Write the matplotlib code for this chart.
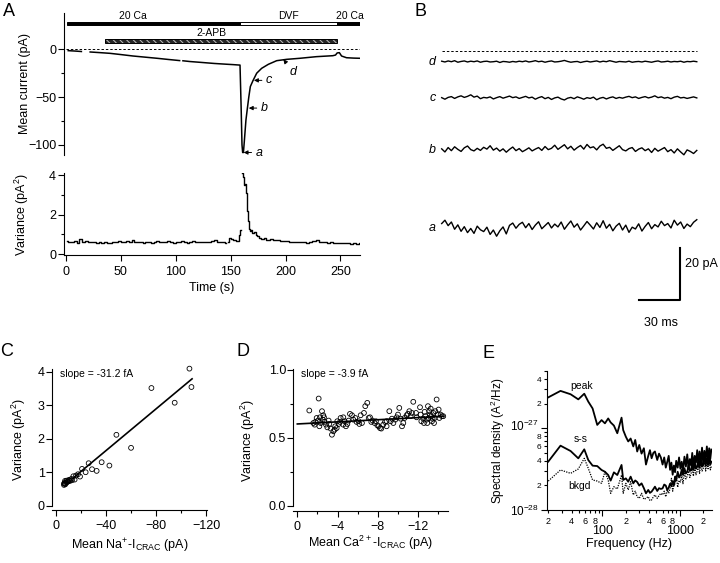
import numpy as np
import matplotlib
matplotlib.use("Agg")
import matplotlib.pyplot as plt
import matplotlib.transforms as mtransforms
from matplotlib.ticker import FixedLocator, FixedFormatter

plt.rcParams['font.family'] = ['Liberation Sans', 'DejaVu Sans']
plt.rcParams['mathtext.fontset'] = 'custom'
plt.rcParams['mathtext.rm'] = 'Liberation Sans'
plt.rcParams['mathtext.it'] = 'Liberation Sans:italic'
plt.rcParams['hatch.linewidth'] = 0.7
plt.rcParams['axes.linewidth'] = 0.8

nan = np.nan

# ---- A: mean current vs time
cur_t = [2, 8, 14, 15, 22, 30, 40, 50, 61, 72,
         83, 93, 103.5, 105, 106.5, 113, 122, 135, 146, 152,
         157, 158.5, 159.5, 160.3, 160.9, 161.6, 162.4, 163.9, 165.2, 166.5,
         167.9, 170.3, 173.7, 178.2, 184.3, 191.9, 201, 213, 228, 243,
         245.5, 247, 249, 251, 255.5, 262, 268]
cur_i = [-1.4, -1.8, -2.3, nan, -2.8, -3.4, -4.2, -5.5, -7.0, -8.2,
         -9.4, -10.6, -11.8, nan, -12.0, -12.8, -13.6, -14.8, -15.6, -16.0,
         -16.4, -16.5, -60, -100, -108, -108, -96.6, -74, -61.8, -50,
         -39, -32.8, -25, -19.9, -15.7, -11.9, -10.5, -9.4, -7.7, -6.7,
         -6.0, -3.8, -3.5, -7, -8.8, -9.2, -9.4]

# solution bars
sol_names = ['20 Ca', 'DVF', '20 Ca']
sol_start = [0.6, 158.5, 246.5]
sol_end = [158.5, 246.5, 268]
sol_colors = ['k', 'w', 'k']
sol_text_t = [60.6, 202.5, 258.6]
apb_start, apb_end = 35.5, 247

# points a-c (time of arrow tip, current)
mark_labels = ['a', 'b', 'c']
mark_t = [161.8, 166.5, 171.2]
mark_i = [-108, -61.5, -32.5]

# ---- A: variance vs time
var_base = [0.66, 0.62, 0.60, 0.64, 0.58, 0.75, 0.62, 0.65, 0.63, 0.60,
            0.62, 0.58, 0.61, 0.56, 0.60, 0.55, 0.58, 0.61, 0.59, 0.64,
            0.60, 0.62, 0.66, 0.61, 0.72, 0.62, 0.59, 0.63, 0.57, 0.60,
            0.62, 0.58, 0.61, 0.64, 0.59, 0.62, 0.60, 0.66, 0.63, 0.58,
            0.62, 0.60, 0.64, 0.61, 0.58, 0.63, 0.65, 0.60, 0.62, 0.59,
            0.63, 0.61, 0.60, 0.64, 0.69, 0.62, 0.60, 0.63, 0.58]
var_t2 = [148, 149.5, 151, 152.5, 154, 155.5, 157, 158, 158.8, 159.5,
          160.8, 161.8, 162.8, 163.6, 164.4, 165.2, 166, 167, 168, 169,
          170.5, 172, 173.5, 175, 177, 179, 181, 184, 187, 190,
          193, 196, 199, 202, 205, 208, 211, 214, 217, 220,
          223, 226, 229, 231, 233, 236, 239, 242, 245, 248,
          251, 254, 257, 260, 263, 266, 268]
var_v2 = [0.62, 0.80, 0.74, 0.70, 0.72, 0.66, 0.68, 0.95, 1.22, nan,
          4.1, 3.9, 3.5, 3.55, 3.1, 2.2, 1.7, 1.25, 1.15, 1.22,
          1.08, 1.12, 0.95, 0.90, 0.82, 0.78, 0.80, 0.72, 0.74, 0.70,
          0.72, 0.66, 0.68, 0.64, 0.62, 0.60, 0.63, 0.60, 0.61, 0.58,
          0.62, 0.66, 0.70, 0.62, 0.60, 0.63, 0.58, 0.60, 0.57, 0.56,
          0.54, 0.57, 0.55, 0.53, 0.56, 0.53, 0.54]

# ---- B: current traces (pA), mean levels and fluctuations
trace_labels = ['a', 'b', 'c', 'd']
trace_mean = [-68.5, -38.4, -18.4, -4.3]
a_noise = [1.6, 2.9, 0.8, 2.2, -0.6, 1.1, -1.4, 0.4, -1.9, -0.3,
           -2.2, 0.6, -0.8, -1.5, 0.2, -2.6, -0.9, -3.3, -1.2, 0.3,
           -2.4, 0.9, 1.8, -0.2, 1.3, 2.1, 0.0, 1.6, -0.7, 1.0,
           2.3, -0.4, 0.8, 2.0, -0.1, 1.4, 0.3, 2.2, -0.6, 1.1,
           2.6, 0.2, 1.5, -0.9, 0.7, 2.4, 1.0, -0.5, 1.9, 0.1,
           2.7, -0.2, 1.3, -1.2, 0.6, 1.7, -0.9, 1.0, -1.8, 0.2,
           -0.5, 1.5, -1.3, 0.5, 2.0, -0.4, 1.2, 0.3, 2.5, 0.8,
           1.6, -0.1, 2.9, 1.0, 2.2, -0.3, 1.4, 0.4, 2.1, 3.1]
b_noise = [0.4, -0.8, 0.9, -0.3, 1.2, 0.2, -0.6, 0.8, 1.5, 0.1,
           -0.4, 0.6, -0.2, 1.0, 0.3, 1.6, -0.1, 0.7, -0.5, 0.4,
           -0.9, 0.2, 1.1, -0.3, 0.5, -0.7, 0.0, 0.8, -0.4, 0.3,
           0.9, -0.2, 1.3, 0.1, 0.6, 1.8, 0.2, 1.1, 2.0, 0.4,
           1.4, -0.1, 0.9, 1.7, 0.3, 2.1, 0.8, 1.2, 0.0, 1.5,
           2.2, 0.6, 1.0, -0.2, 0.7, 1.6, 0.1, -0.4, 0.5, 0.9,
           -0.6, 0.3, 0.8, -0.3, 0.4, -1.0, 0.6, -0.5, 0.2, 0.9,
           -0.7, 0.1, -1.2, 0.4, -0.8, -1.9, 0.0, -0.6, -1.4, -0.2]
c_noise = [0.2, -0.4, 0.3, 0.6, -0.1, 0.5, 0.9, 0.3, 0.7, 1.3,
           0.4, 0.8, -0.2, 0.3, 0.1, 0.5, -0.3, 0.2, 0.6, 0.0,
           0.4, 0.8, 0.2, 0.5, -0.1, 0.3, 0.7, 0.1, 0.4, -0.4,
           0.2, 0.6, -0.2, 0.3, -0.5, 0.1, 0.4, -0.3, -0.7, 0.0,
           0.3, -0.2, 0.5, 0.1, -0.4, 0.2, -0.1, 0.4, -0.6, 0.0,
           0.3, -0.3, 0.2, 0.5, -0.1, 0.3, 0.0, 0.4, 0.7, 0.2,
           0.5, -0.1, 0.3, 0.6, 0.1, 0.4, 0.9, 0.2, 0.5, 0.0,
           0.3, -0.2, 0.4, 0.7, 0.1, 0.3, -0.1, 0.2, 0.5, 0.1]
d_noise = [0.2, -0.1, 0.3, 0.0, 0.4, -0.2, 0.1, 0.3, -0.1, 0.2,
           0.0, 0.3, -0.2, 0.1, 0.2, -0.1, 0.0, 0.2, -0.3, 0.1,
           0.0, -0.2, 0.1, -0.1, 0.2, 0.0, 0.3, -0.1, 0.1, 0.4,
           0.0, 0.2, -0.2, 0.1, 0.3, -0.1, 0.0, 0.2, 0.5, 0.1,
           -0.2, 0.0, 0.1, -0.3, 0.0, 0.2, -0.1, 0.1, 0.3, -0.1,
           0.2, 0.0, 0.4, 0.1, -0.2, 0.1, 0.0, -0.1, 0.2, -0.2,
           0.0, 0.1, -0.1, 0.2, 0.0, -0.2, 0.1, 0.3, -0.1, 0.0,
           0.2, -0.1, 0.1, 0.0, 0.2, -0.2, 0.1, 0.0, 0.2, 0.0]
trace_dur_ms = 188
scale_ms, scale_pA = 30, 20

# ---- C: Na+ current variance vs mean
c_I = [-106.7, -108.3, -94.9, -76.3, -60.0, -48.3, -42.7, -36.5, -32.5, -28.8,
       -26.1, -23.7, -20.8, -19.2, -17.6, -16.0, -14.9, -13.9, -12.8, -12.3,
       -11.2, -10.1, -9.3, -8.5, -8.0, -7.5, -7.2, -6.9, -6.4, -6.4,
       -7.0, -8.8, -9.8, -10.6]
c_V = [4.10, 3.55, 3.08, 3.52, 1.73, 2.12, 1.20, 1.30, 1.04, 1.09,
       1.27, 1.00, 1.10, 0.87, 0.94, 0.90, 0.78, 0.88, 0.76, 0.80,
       0.74, 0.76, 0.72, 0.75, 0.70, 0.64, 0.74, 0.68, 0.62, 0.66,
       0.66, 0.70, 0.73, 0.77]
c_slope, c_icpt = -0.0312, 0.40
c_fit_range = [-14, -108.8]

# ---- D: Ca2+ current variance vs mean
d_I = [-1.19, -2.12, -2.45, -1.92, -1.79, -2.05, -2.25, -2.32, -2.52, -2.65,
       -2.72, -2.85, -2.19, -2.98, -3.18, -3.31, -3.44, -3.58, -3.71, -3.77,
       -3.91, -4.11, -4.24, -4.30, -4.57, -4.70, -4.83, -4.97, -5.10, -5.23,
       -5.43, -5.56, -5.76, -5.89, -6.09, -6.16, -6.42, -6.62, -6.75, -6.95,
       -7.09, -7.22, -7.35, -7.48, -7.81, -7.95, -8.08, -8.21, -8.34, -8.54,
       -8.71, -8.87, -9.14, -9.27, -9.40, -9.54, -9.74, -9.87, -10.0, -10.13,
       -10.26, -10.40, -10.53, -10.66, -10.86, -10.99, -11.13, -11.26, -11.39, -11.52,
       -11.79, -11.85, -12.19, -12.25, -12.52, -12.58, -12.72, -12.85, -12.91, -13.05,
       -13.11, -13.18, -13.31, -13.38, -13.44, -13.51, -13.58, -13.71, -13.84, -13.97,
       -14.04, -14.11, -14.24, -14.37, -14.50, -1.59, -1.72, -2.58, -3.11, -3.97,
       -4.57, -6.29, -7.68, -8.87, -12.32, -12.65, -12.98, -13.25, -13.64]
d_V = [0.700, 0.788, 0.695, 0.645, 0.616, 0.626, 0.650, 0.608, 0.633, 0.650,
       0.616, 0.596, 0.584, 0.576, 0.601, 0.567, 0.522, 0.547, 0.559, 0.584,
       0.571, 0.601, 0.616, 0.645, 0.650, 0.621, 0.584, 0.601, 0.626, 0.675,
       0.665, 0.633, 0.645, 0.616, 0.621, 0.601, 0.608, 0.682, 0.732, 0.756,
       0.645, 0.650, 0.616, 0.626, 0.621, 0.591, 0.584, 0.571, 0.567, 0.596,
       0.616, 0.584, 0.695, 0.621, 0.640, 0.608, 0.633, 0.650, 0.670, 0.719,
       0.640, 0.584, 0.608, 0.645, 0.665, 0.675, 0.695, 0.658, 0.682, 0.764,
       0.682, 0.650, 0.724, 0.670, 0.640, 0.608, 0.658, 0.633, 0.608, 0.645,
       0.695, 0.670, 0.658, 0.621, 0.640, 0.682, 0.608, 0.695, 0.781, 0.670,
       0.707, 0.645, 0.670, 0.658, 0.658, 0.608, 0.596, 0.665, 0.626, 0.621,
       0.596, 0.665, 0.608, 0.621, 0.621, 0.690, 0.732, 0.714, 0.645]
d_slope, d_icpt = -0.0039, 0.601
d_fit_range = [0, -14.5]

# ---- E: spectral density (units of 1e-28 A^2/Hz)
freq_hz = [20, 28.8, 38.9, 48.9, 58.4, 65.8, 74.8, 85.9, 97.7, 108,
           119, 128, 141, 156, 177, 186, 201, 216, 232, 251,
           266, 282, 300, 321, 344, 366, 392, 412, 433, 456,
           478, 512, 540, 570,
           600, 630, 660, 690, 720, 750, 780, 810, 840, 870,
           900, 940, 980, 1020, 1060, 1100, 1150, 1200, 1250, 1300,
           1350, 1400, 1450, 1500, 1560, 1620, 1680, 1740, 1800, 1870,
           1940, 2010, 2080, 2160, 2240, 2320, 2400, 2480, 2560]
peak_sd = [23.9, 28.7, 26.1, 22.6, 26.5, 21.2, 17.5, 11.0, 12.6, 11.5,
           13.2, 11.8, 10.8, 8.7, 13.5, 9.5, 7.9, 6.9, 7.5, 6.0,
           7.2, 5.2, 6.25, 4.9, 5.7, 3.6, 4.6, 5.4, 4.3, 5.0,
           5.2, 4.1, 4.9, 4.4,
           3.6, 4.4, 3.3, 3.9, 4.6, 3.1, 3.8, 2.7, 3.5, 2.9,
           4.0, 3.3, 4.4, 3.2, 3.9, 3.0, 4.5, 3.4, 4.8, 3.2,
           4.2, 3.5, 5.0, 3.4, 4.6, 3.8, 5.4, 3.6, 5.2, 3.9,
           5.8, 3.7, 5.3, 4.2, 6.0, 3.9, 5.7, 4.2, 5.5]
ss_sd = [3.91, 6.13, 5.27, 4.29, 5.53, 4.09, 3.49, 3.45, 3.09, 2.94,
         2.68, 2.29, 2.89, 2.68, 3.56, 2.33, 2.44, 2.22, 2.56, 2.12,
         2.30, 2.20, 1.99, 2.12, 1.85, 1.60, 1.76, 1.62, 1.68, 1.80,
         1.93, 1.71, 1.85, 1.81,
         1.84, 2.05, 1.99, 1.75, 1.88, 2.10, 1.95, 2.26, 2.0, 2.56,
         2.3, 2.94, 2.5, 2.68, 3.1, 2.7, 3.24, 2.8, 2.94, 3.56,
         3.0, 3.09, 3.7, 3.1, 3.91, 3.2, 3.39, 4.1, 3.3, 4.29,
         3.4, 3.56, 4.94, 3.5, 4.3, 3.56, 5.18, 3.6, 3.91]
bkgd_sd = [2.26, 3.09, 2.81, 3.18, 4.29, 3.24, 2.33, 2.26, 2.12, 2.94,
           2.33, 1.60, 1.93, 1.81, 2.68, 1.60, 2.12, 1.76, 2.22, 1.53,
           1.70, 1.45, 1.39, 1.60, 1.35, 1.39, 1.46, 1.30, 1.33, 1.45,
           1.53, 1.39, 1.50, 1.60,
           1.53, 1.70, 1.45, 1.76, 1.60, 1.84, 2.44, 1.70, 2.02, 2.10,
           2.68, 1.9, 2.3, 2.2, 2.7, 2.1, 2.9, 2.4, 2.6, 3.0,
           2.5, 2.8, 3.3, 2.6, 3.4, 2.7, 3.0, 3.5, 2.8, 3.7,
           3.0, 3.2, 4.1, 3.0, 3.7, 3.2, 4.3, 3.1, 3.4]

W, H = 720, 563
fig = plt.figure(figsize=(W / 100, H / 100), dpi=100)


def px_axes(l, t, r, b):
    return fig.add_axes([l / W, 1 - b / H, (r - l) / W, (b - t) / H])


def ftext(x, y, s, **kw):
    fig.text(x / W, 1 - y / H, s, **kw)


def style(ax, fs=9, xpad=3.5):
    for s in ['top', 'right']:
        ax.spines[s].set_visible(False)
    ax.tick_params(direction='out', length=4.5, width=0.8, labelsize=fs)
    ax.tick_params(axis='y', pad=0.8)
    ax.tick_params(axis='x', pad=xpad)
    ax.tick_params(which='minor', direction='out', length=2.5, width=0.8)


# ---------------- panel A top
ax1 = px_axes(63.5, 13, 360, 155)
style(ax1)
ax1.spines['bottom'].set_visible(False)
ax1.set_xticks([])
ax1.set_xlim(-2.3, 267.8)
ax1.set_ylim(-110.6, 38)
ax1.set_yticks([-100, -50, 0])
ax1.yaxis.set_minor_locator(FixedLocator([-75, -25]))
ax1.plot([0, 268], [0, 0], color='k', lw=0.7, ls=(0, (2.5, 2)))
ax1.plot(cur_t, cur_i, color='k', lw=1.1)
for name, s, e, c, tx in zip(sol_names, sol_start, sol_end, sol_colors, sol_text_t):
    ax1.barh(27.15, e - s, left=s, height=3.5, color=c, edgecolor='k', lw=0.7)
    ax1.text(tx, 34.8, name, ha='center', va='center', fontsize=7.5, clip_on=False)
ax1.barh(8.4, apb_end - apb_start, left=apb_start, height=4.2, facecolor='0.15',
         edgecolor='0.75', hatch='\\\\\\\\\\', lw=0)
ax1.barh(8.4, apb_end - apb_start, left=apb_start, height=4.2, facecolor='none',
         edgecolor='k', lw=0.7)
ax1.text(132.7, 16.7, '2-APB', ha='center', va='center', fontsize=7.5)
arrow = dict(arrowstyle='-|>', lw=0.7, color='k', shrinkA=1, shrinkB=0, mutation_scale=6)
for lab, t, i in zip(mark_labels, mark_t, mark_i):
    ax1.annotate(lab, xy=(t, i), xytext=(t + 11, i), ha='left', va='center',
                 fontsize=9, style='italic', arrowprops=arrow)
ax1.annotate('d', xy=(198, -10.5), xytext=(207, -23.4), ha='center', va='center',
             fontsize=9, style='italic', arrowprops=arrow)
ax1.set_ylabel('Mean current (pA)', fontsize=9)
ax1.yaxis.set_label_coords(-0.11, 0.5)

# ---------------- panel A bottom
ax2 = px_axes(63.5, 173, 360, 255)
style(ax2)
ax2.set_xlim(-2.3, 267.8)
ax2.set_ylim(-0.05, 4.12)
base_t = np.linspace(1, 146, len(var_base))
ax2.plot(base_t, var_base, color='k', lw=1.0, drawstyle='steps-mid')
ax2.plot(var_t2, var_v2, color='k', lw=1.0, drawstyle='steps-mid')
ax2.set_yticks([0, 2, 4])
ax2.yaxis.set_minor_locator(FixedLocator([1, 3]))
ax2.set_xticks([0, 50, 100, 150, 200, 250])
ax2.set_xlabel('Time (s)', fontsize=9)
ax2.xaxis.set_label_coords(0.5, -0.326)
ax2.set_ylabel('Variance (pA$^2$)', fontsize=9)
ax2.yaxis.set_label_coords(-0.111, 0.5)

# ---------------- panel B
ax6 = px_axes(425, 40, 720, 335)
ax6.axis('off')
ax6.set_xlim(-12.3, 205.1)
ax6.set_ylim(-110, 4.1)
ax6.plot([0, trace_dur_ms], [0, 0], color='k', lw=0.7, ls=(0, (2.5, 2)))
for lab, m, nz in zip(trace_labels, trace_mean, [a_noise, b_noise, c_noise, d_noise]):
    tt = np.linspace(0, trace_dur_ms, len(nz))
    ax6.plot(tt, m + np.array(nz), color='k', lw=1.0)
    ax6.text(-6.8, m, lab, ha='center', va='center', fontsize=9, style='italic')
sx, sy = 175.6, -96.4
ax6.plot([sx - scale_ms, sx, sx], [sy, sy, sy + scale_pA], color='k', lw=1.5)
ax6.text(sx + 3.7, sy + scale_pA * 0.7, '%d pA' % scale_pA, ha='left', va='center', fontsize=9)
ax6.text(sx - scale_ms / 2 + 1, sy - 9, '%d ms' % scale_ms, ha='center', va='center', fontsize=9)

# ---------------- panel C
ax3 = px_axes(52, 369.3, 206.7, 510)
style(ax3, xpad=2.5)
ax3.set_xlim(3.2, -120.5)
ax3.set_ylim(-0.13, 4.08)
ax3.spines['left'].set_bounds(0, 4.08)
ax3.scatter(c_I, c_V, s=12, facecolors='none', edgecolors='k', linewidths=0.6, clip_on=False)
fx = np.array(c_fit_range)
ax3.plot(fx, c_icpt + c_slope * fx, color='k', lw=1.2)
ax3.set_xticks([0, -40, -80, -120])
ax3.xaxis.set_minor_locator(FixedLocator([-20, -60, -100]))
ax3.set_yticks([0, 1, 2, 3, 4])
ax3.text(-3.5, 3.95, 'slope = -31.2 fA', fontsize=7.5, ha='left', va='center')
ax3.set_xlabel('Mean Na$^{+}$-I$_{\\mathrm{CRAC}}$ (pA)', fontsize=9)
ax3.xaxis.set_label_coords(0.5, -0.19)
ax3.set_ylabel('Variance (pA$^2$)', fontsize=9)
ax3.yaxis.set_label_coords(-0.158, 0.5)

# ---------------- panel D
ax4 = px_axes(293.3, 369.3, 448.3, 511)
style(ax4, xpad=2.5)
ax4.set_xlim(0.4, -15.0)
ax4.set_ylim(-0.039, 1.003)
ax4.spines['left'].set_bounds(0, 1.003)
ax4.scatter(d_I, d_V, s=12, facecolors='none', edgecolors='k', linewidths=0.6, clip_on=False)
fx = np.array(d_fit_range)
ax4.plot(fx, d_icpt + d_slope * fx, color='k', lw=1.2)
ax4.set_xticks([0, -4, -8, -12])
ax4.xaxis.set_minor_locator(FixedLocator([-2, -6, -10, -14]))
ax4.set_yticks([0, 0.5, 1.0])
ax4.set_yticklabels(['0.0', '0.5', '1.0'])
ax4.yaxis.set_minor_locator(FixedLocator([0.25, 0.75]))
ax4.text(-0.35, 0.97, 'slope = -3.9 fA', fontsize=7.5, ha='left', va='center')
ax4.set_xlabel('Mean Ca$^{2+}$-I$_{\\mathrm{CRAC}}$ (pA)', fontsize=9)
ax4.xaxis.set_label_coords(0.5, -0.16)
ax4.set_ylabel('Variance (pA$^2$)', fontsize=9)
ax4.yaxis.set_label_coords(-0.234, 0.5)

# ---------------- panel E
ax5 = px_axes(546.7, 370.7, 712, 510)
style(ax5)
ax5.set_xscale('log')
ax5.set_yscale('log')
f = np.array(freq_hz)
ax5.plot(f, np.array(peak_sd) * 1e-28, color='k', lw=1.3)
ax5.plot(f, np.array(ss_sd) * 1e-28, color='k', lw=1.3)
ax5.plot(f, np.array(bkgd_sd) * 1e-28, color='k', lw=0.9, ls=(0, (1, 1)))
ax5.set_xlim(19.1, 2610)
ax5.set_ylim(1e-28, 5.07e-27)
ax5.xaxis.set_major_locator(FixedLocator([100, 1000]))
ax5.xaxis.set_major_formatter(FixedFormatter(['100', '1000']))
xmin = [20, 30, 40, 50, 60, 70, 80, 90, 200, 300, 400, 500, 600, 700, 800, 900, 2000]
xmin_lab = ['2', '', '4', '', '6', '', '8', '', '2', '', '4', '', '6', '', '8', '', '2']
ax5.xaxis.set_minor_locator(FixedLocator(xmin))
ax5.xaxis.set_minor_formatter(FixedFormatter(xmin_lab))
ax5.yaxis.set_major_locator(FixedLocator([1e-28, 1e-27]))
ax5.yaxis.set_major_formatter(FixedFormatter(['$10^{-28}$', '$10^{-27}$']))
ymin = [2e-28, 3e-28, 4e-28, 5e-28, 6e-28, 7e-28, 8e-28, 9e-28, 2e-27, 3e-27, 4e-27, 5e-27]
ymin_lab = ['2', '', '4', '', '6', '', '8', '', '2', '', '4', '']
ax5.yaxis.set_minor_locator(FixedLocator(ymin))
ax5.yaxis.set_minor_formatter(FixedFormatter(ymin_lab))
ax5.tick_params(axis='x', which='major', pad=6.5, labelsize=9)
ax5.tick_params(axis='x', which='minor', pad=2.2, labelsize=6.5)
ax5.tick_params(axis='y', which='major', labelsize=8.5, pad=1.5)
ax5.tick_params(axis='y', which='minor', labelsize=6, pad=1.5)
ax5.text(54, 32.9e-28, 'peak', ha='center', va='center', fontsize=7.5)
ax5.text(52.8, 7.4e-28, 's-s', ha='center', va='center', fontsize=7.5)
ax5.text(50.4, 1.97e-28, 'bkgd', ha='center', va='center', fontsize=7.5)
ax5.set_xlabel('Frequency (Hz)', fontsize=9)
ax5.xaxis.set_label_coords(0.5, -0.2)
ax5.set_ylabel('Spectral density (A$^2$/Hz)', fontsize=8.5)
ax5.yaxis.set_label_coords(-0.242, 0.5)
# nudge the 10^-27 label up a little so it clears the minor '8'
lift = mtransforms.ScaledTranslation(0, 2.5 / 72, fig.dpi_scale_trans)
fig.canvas.draw()
for lab in ax5.get_yticklabels():
    if '27' in lab.get_text():
        lab.set_transform(lab.get_transform() + lift)

# panel letters
for lab, x, y in [('A', 9, 11), ('B', 421, 11), ('C', 7, 352), ('D', 243, 352), ('E', 488, 353)]:
    ftext(x, y, lab, fontsize=13, ha='center', va='center')

fig.savefig('out.png', dpi=100)
